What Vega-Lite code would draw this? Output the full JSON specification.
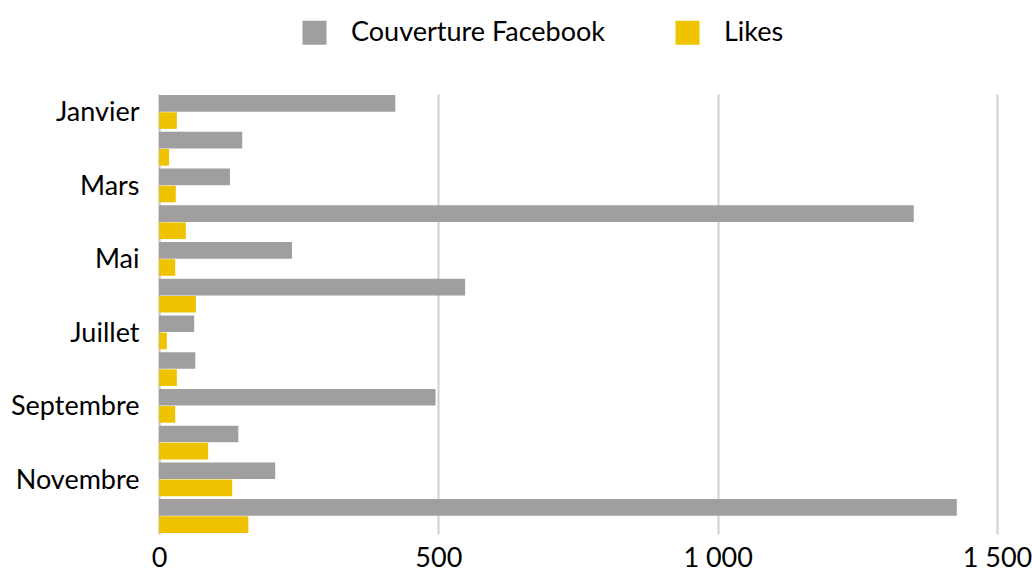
{
  "$schema": "https://vega.github.io/schema/vega-lite/v6.json",
  "autosize": "none",
  "width": 838,
  "height": 440,
  "padding": {"left": 159, "top": 94, "right": 35, "bottom": 40},
  "background": "white",
  "config": {
    "font": "Lato",
    "view": {"stroke": null}
  },
  "data": {
    "values": [
      {"mois": "Janvier", "serie": "Couverture Facebook", "valeur": 423},
      {"mois": "Janvier", "serie": "Likes", "valeur": 32},
      {"mois": "Février", "serie": "Couverture Facebook", "valeur": 149},
      {"mois": "Février", "serie": "Likes", "valeur": 18},
      {"mois": "Mars", "serie": "Couverture Facebook", "valeur": 127},
      {"mois": "Mars", "serie": "Likes", "valeur": 30},
      {"mois": "Avril", "serie": "Couverture Facebook", "valeur": 1351},
      {"mois": "Avril", "serie": "Likes", "valeur": 48},
      {"mois": "Mai", "serie": "Couverture Facebook", "valeur": 238},
      {"mois": "Mai", "serie": "Likes", "valeur": 29},
      {"mois": "Juin", "serie": "Couverture Facebook", "valeur": 548},
      {"mois": "Juin", "serie": "Likes", "valeur": 66},
      {"mois": "Juillet", "serie": "Couverture Facebook", "valeur": 63},
      {"mois": "Juillet", "serie": "Likes", "valeur": 14},
      {"mois": "Août", "serie": "Couverture Facebook", "valeur": 65},
      {"mois": "Août", "serie": "Likes", "valeur": 32},
      {"mois": "Septembre", "serie": "Couverture Facebook", "valeur": 495},
      {"mois": "Septembre", "serie": "Likes", "valeur": 29},
      {"mois": "Octobre", "serie": "Couverture Facebook", "valeur": 142},
      {"mois": "Octobre", "serie": "Likes", "valeur": 88},
      {"mois": "Novembre", "serie": "Couverture Facebook", "valeur": 208},
      {"mois": "Novembre", "serie": "Likes", "valeur": 131},
      {"mois": "Décembre", "serie": "Couverture Facebook", "valeur": 1428},
      {"mois": "Décembre", "serie": "Likes", "valeur": 160}
    ]
  },
  "mark": {"type": "bar"},
  "encoding": {
    "y": {
      "field": "mois",
      "type": "nominal",
      "sort": ["Janvier", "Février", "Mars", "Avril", "Mai", "Juin", "Juillet", "Août", "Septembre", "Octobre", "Novembre", "Décembre"],
      "scale": {"paddingInner": 0.08, "paddingOuter": 0.03},
      "axis": {
        "title": null,
        "values": ["Janvier", "Mars", "Mai", "Juillet", "Septembre", "Novembre"],
        "ticks": false,
        "domain": true,
        "domainColor": "#d0d0d0",
        "domainWidth": 2,
        "labelFontSize": 27,
        "labelColor": "#000000",
        "labelPadding": 20,
        "labelOffset": 1.5,
        "labelLimit": 300,
        "labelFont": "Lato"
      }
    },
    "yOffset": {
      "field": "serie",
      "type": "nominal",
      "sort": ["Couverture Facebook", "Likes"],
      "scale": {"paddingInner": 0.03}
    },
    "x": {
      "field": "valeur",
      "type": "quantitative",
      "scale": {"domain": [0, 1500], "nice": false},
      "axis": {
        "title": null,
        "values": [0, 500, 1000, 1500],
        "labelExpr": "replace(format(datum.value, ','), ',', ' ')",
        "labelFlush": false,
        "ticks": false,
        "domain": false,
        "grid": true,
        "gridColor": "#d0d0d0",
        "gridWidth": 2,
        "labelFontSize": 27,
        "labelColor": "#000000",
        "labelPadding": 11,
        "labelFont": "Lato"
      }
    },
    "color": {
      "field": "serie",
      "type": "nominal",
      "sort": ["Couverture Facebook", "Likes"],
      "scale": {"domain": ["Couverture Facebook", "Likes"], "range": ["#a09e9e", "#f0c300"]},
      "legend": {
        "title": null,
        "orient": "none",
        "direction": "horizontal",
        "legendX": 142,
        "legendY": -75,
        "symbolType": "square",
        "symbolSize": 576,
        "symbolStrokeWidth": 0,
        "labelFontSize": 27,
        "labelFont": "Lato",
        "labelColor": "#000000",
        "labelOffset": 23,
        "labelLimit": 400,
        "columnPadding": 68
      }
    }
  }
}
